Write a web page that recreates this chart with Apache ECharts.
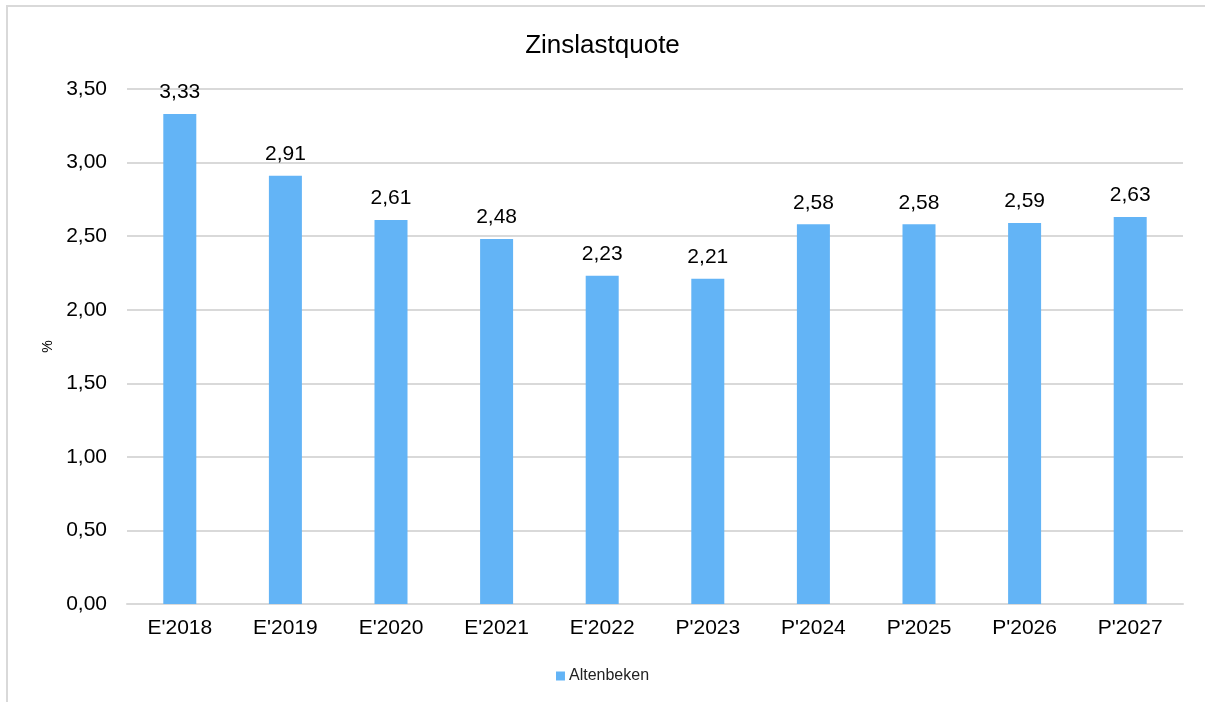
<!DOCTYPE html>
<html>
<head>
<meta charset="utf-8">
<script src="https://cdn.jsdelivr.net/npm/echarts@6/dist/echarts.min.js"></script>
<style>
html, body { margin: 0; padding: 0; background: #fff; }
#main { width: 1205px; height: 702px; }
</style>
</head>
<body>
<div id="main"></div>
<script>
// Zinslastquote Altenbeken
var categories = ["E'2018", "E'2019", "E'2020", "E'2021", "E'2022", "P'2023", "P'2024", "P'2025", "P'2026", "P'2027"];
var values = [3.33, 2.91, 2.61, 2.48, 2.23, 2.21, 2.58, 2.58, 2.59, 2.63];
var seriesName = 'Altenbeken';

var myChart = echarts.init(document.getElementById('main'));

function fmt(v) {
    return v.toFixed(2).replace('.', ',');
}

var option = {
    animation: false,
    textStyle: { fontFamily: 'Liberation Sans, Arial, sans-serif' },
    graphic: [{
        type: 'rect',
        shape: { x: 7, y: 6, width: 1220, height: 720 },
        style: { fill: 'none', stroke: '#d9d9d9', lineWidth: 2 },
        silent: true
    }],
    title: {
        text: 'Zinslastquote',
        left: 'center',
        top: 28,
        textStyle: { fontSize: 26, fontWeight: 'normal', color: '#000' }
    },
    legend: {
        data: [seriesName],
        bottom: 13,
        left: 'center',
        icon: 'rect',
        itemWidth: 9,
        itemHeight: 9,
        itemGap: 4,
        textStyle: { fontSize: 16, color: '#222', padding: [0, 0, 0, -1] }
    },
    grid: {
        left: 127,
        right: 22,
        top: 89,
        bottom: 98
    },
    xAxis: {
        type: 'category',
        data: categories,
        axisTick: { show: false },
        axisLine: { lineStyle: { color: '#d9d9d9', width: 2 } },
        axisLabel: { fontSize: 21, color: '#000', margin: 14 }
    },
    yAxis: {
        type: 'value',
        min: 0,
        max: 3.5,
        interval: 0.5,
        name: '%',
        nameLocation: 'middle',
        nameGap: 72,
        nameRotate: 90,
        nameTextStyle: { fontSize: 14, color: '#000' },
        axisLine: { show: false },
        axisTick: { show: false },
        axisLabel: {
            fontSize: 21,
            color: '#000',
            margin: 20,
            formatter: function (v) { return fmt(v); }
        },
        splitLine: { lineStyle: { color: '#d9d9d9', width: 2 } }
    },
    series: [{
        name: seriesName,
        type: 'bar',
        data: values,
        barWidth: 33,
        itemStyle: { color: '#63b4f6' },
        label: {
            show: true,
            position: 'top',
            distance: 11,
            fontSize: 21,
            color: '#000',
            formatter: function (p) { return fmt(p.value); }
        }
    }]
};

myChart.setOption(option, true);
</script>
</body>
</html>
